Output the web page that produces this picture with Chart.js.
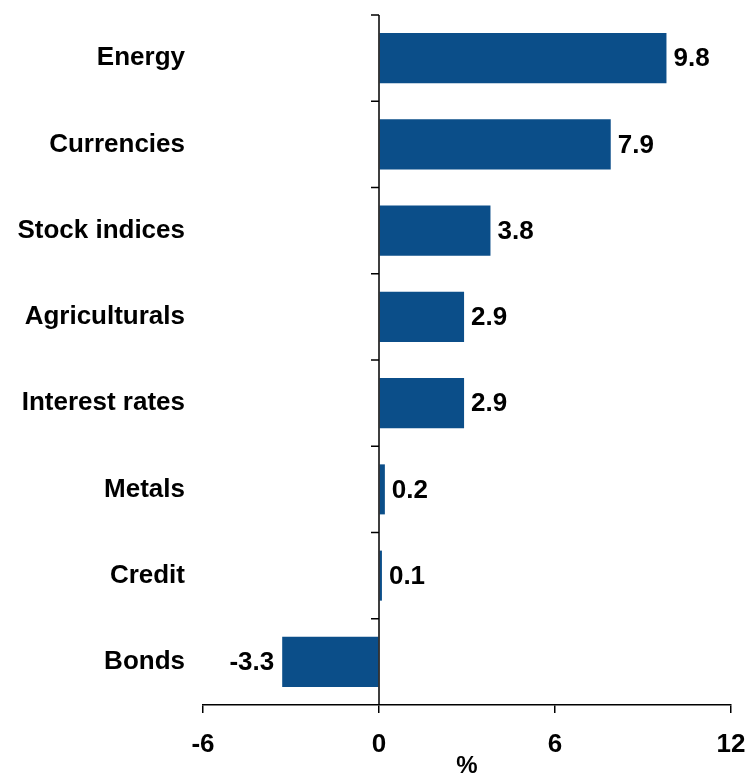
<!DOCTYPE html>
<html>
<head>
<meta charset="utf-8">
<script src="https://cdn.jsdelivr.net/npm/chart.js@4/dist/chart.umd.min.js"></script>
<style>
  html, body { margin: 0; padding: 0; background: #ffffff; }
  #wrap { width: 746px; height: 774px; position: relative; }
</style>
</head>
<body>
<div id="wrap"><canvas id="chart"></canvas></div>
<script>
// Sector returns, in percent
const categories = ['Energy', 'Currencies', 'Stock indices', 'Agriculturals', 'Interest rates', 'Metals', 'Credit', 'Bonds'];
const values = [9.8, 7.9, 3.8, 2.9, 2.9, 0.2, 0.1, -3.3];
const xTicks = [-6, 0, 6, 12];
const xTitle = '%';

const BAR_COLOR = '#0B4E89';
const FONT_FAMILY = '"Liberation Sans", Arial, sans-serif';
const TEXT_SIZE = 26;

// Vertical axis drawn through zero, with marks between categories
const zeroAxis = {
  id: 'zeroAxis',
  afterDatasetsDraw(chart) {
    const { ctx, chartArea, scales } = chart;
    const x0 = scales.x.getPixelForValue(0);
    const y = scales.y;
    const step = y.getPixelForValue(1) - y.getPixelForValue(0);
    ctx.save();
    ctx.strokeStyle = '#000';
    ctx.lineWidth = 1.5;
    ctx.beginPath();
    ctx.moveTo(x0, chartArea.top);
    ctx.lineTo(x0, chartArea.bottom);
    for (let i = 0; i < categories.length; i++) {
      const yb = y.getPixelForValue(i) - step / 2;
      ctx.moveTo(x0 - 8, yb);
      ctx.lineTo(x0, yb);
    }
    ctx.stroke();
    ctx.restore();
  }
};

// Value printed at the end of each bar
const valueLabels = {
  id: 'valueLabels',
  afterDatasetsDraw(chart) {
    const { ctx } = chart;
    const meta = chart.getDatasetMeta(0);
    ctx.save();
    ctx.font = `bold ${TEXT_SIZE}px ${FONT_FAMILY}`;
    ctx.fillStyle = '#000';
    ctx.textBaseline = 'middle';
    meta.data.forEach((bar, i) => {
      const v = values[i];
      const txt = v.toFixed(1);
      if (v >= 0) {
        ctx.textAlign = 'left';
        ctx.fillText(txt, bar.x + 7, bar.y + 1);
      } else {
        ctx.textAlign = 'right';
        ctx.fillText(txt, bar.x - 8, bar.y + 1);
      }
    });
    ctx.restore();
  }
};

new Chart(document.getElementById('chart'), {
  type: 'bar',
  data: {
    labels: categories,
    datasets: [{
      data: values,
      backgroundColor: BAR_COLOR,
      borderWidth: 0,
      barPercentage: 0.58,
      categoryPercentage: 1
    }]
  },
  options: {
    indexAxis: 'y',
    responsive: true,
    maintainAspectRatio: false,
    animation: false,
    devicePixelRatio: 1,
    layout: { padding: { top: 15, right: 15, left: 0, bottom: 0 } },
    plugins: {
      legend: { display: false },
      tooltip: { enabled: false }
    },
    scales: {
      x: {
        type: 'linear',
        min: xTicks[0],
        max: xTicks[xTicks.length - 1],
        afterBuildTicks(scale) { scale.ticks = xTicks.map(v => ({ value: v })); },
        afterFit(scale) {
          scale.height = 69;
          scale.paddingLeft = 0;
          scale.paddingRight = 0;
        },
        grid: {
          display: true,
          drawOnChartArea: false,
          drawTicks: true,
          tickLength: 8,
          color: '#000',
          lineWidth: 1.5
        },
        border: { display: true, color: '#000', width: 1.5 },
        ticks: {
          color: '#000',
          padding: 16,
          maxRotation: 0,
          font: { family: FONT_FAMILY, size: TEXT_SIZE, weight: 'bold' },
          callback: v => String(v)
        },
        title: {
          display: true,
          text: xTitle,
          color: '#000',
          padding: { top: 0, bottom: -4 },
          font: { family: FONT_FAMILY, size: 24, weight: 'bold', lineHeight: 1 }
        }
      },
      y: {
        type: 'category',
        offset: true,
        afterFit(scale) {
          scale.width = 203;
          scale.paddingTop = 0;
          scale.paddingBottom = 0;
        },
        grid: { display: false, drawTicks: false },
        border: { display: false },
        ticks: {
          color: '#000',
          padding: 18,
          font: { family: FONT_FAMILY, size: TEXT_SIZE, weight: 'bold' }
        }
      }
    }
  },
  plugins: [zeroAxis, valueLabels]
});
</script>
</body>
</html>
